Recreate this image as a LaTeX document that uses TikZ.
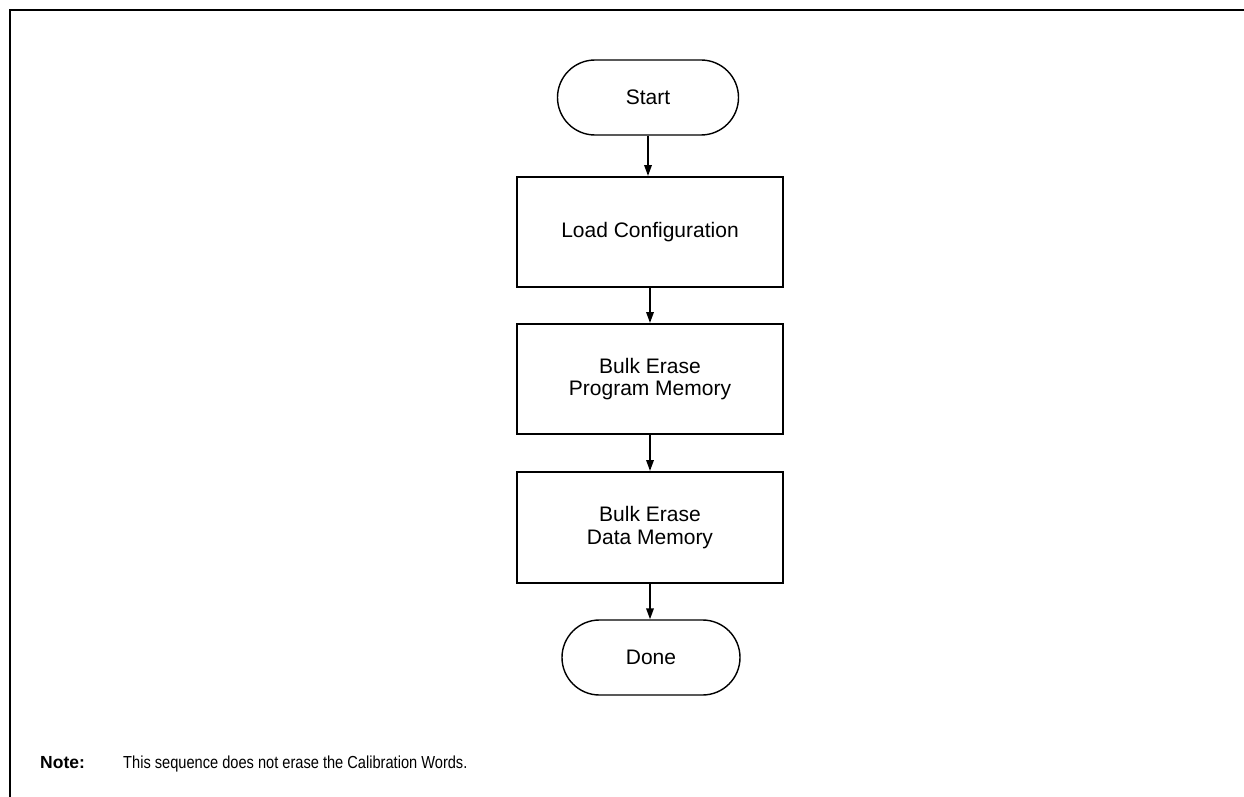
\documentclass[tikz,border=0pt]{standalone}
\usepackage{fontspec}
\setmainfont{Liberation Sans}
\newfontfamily\narrowfont[FakeStretch=0.84]{Liberation Sans}
\usetikzlibrary{shapes.misc,arrows.meta}
\begin{document}
\begin{tikzpicture}[x=1pt,y=-1pt,
  term/.style={rounded rectangle, draw, line width=1.4pt, minimum width=181pt, minimum height=75pt, inner sep=0pt, font=\fontsize{21}{22.5}\selectfont},
  proc/.style={rectangle, draw, line width=2pt, minimum width=266pt, minimum height=110pt, align=center, inner sep=0pt, font=\fontsize{21}{22.5}\selectfont},
  arr/.style={line width=1.8pt, -{Triangle[length=11pt,width=7.5pt]}},
  frameline/.style={line width=2pt},
  txt/.style={anchor=base west, inner sep=0pt}]
\useasboundingbox (0,0) rectangle (1244,797);
\coordinate (ftr) at (1244,10);
\coordinate (ftl) at (10,10);
\coordinate (fbl) at (10,797);
\draw[frameline] (ftr) -- (ftl) -- (fbl);

\node[term] (start) at (648,97.5) {Start};
\node[proc] (load) at (650,232) {Load Configuration};
\node[proc] (bprog) at (650,379) {Bulk Erase\\Program Memory};
\node[proc, minimum height=111pt] (bdata) at (650,527.5) {Bulk Erase\\Data Memory};
\node[term, minimum width=178pt] (done) at (651,657.5) {Done};

\draw[arr] (start.south) -- (start.south |- load.north);
\draw[arr] (load.south) -- (bprog.north);
\draw[arr] (bprog.south) -- (bdata.north);
\draw[arr] (bdata.south) -- (bdata.south |- done.north);

\node[txt] (notelbl) at (40,768) {\fontsize{17.5}{20}\selectfont\bfseries Note:};
\node[txt] (notetxt) at (123,768) {\narrowfont\fontsize{17.4}{20}\selectfont This sequence does not erase the Calibration Words.};
\end{tikzpicture}
\end{document}
